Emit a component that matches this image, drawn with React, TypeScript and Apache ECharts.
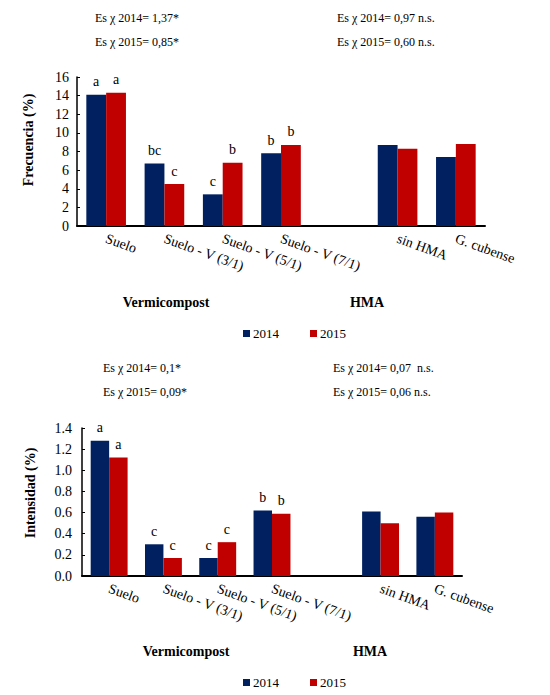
import React, { useEffect, useRef } from "react";
import * as echarts from "echarts";

const categories = ["Suelo", "Suelo - V (3/1)", "Suelo - V (5/1)", "Suelo - V (7/1)", "", "sin HMA", "G. cubense"];
const freq2014 = [14.1, 6.7, 3.4, 7.8, null, 8.7, 7.4];
const freq2015 = [14.3, 4.5, 6.8, 8.7, null, 8.3, 8.8];
const freqLetters2014 = ["a", "bc", "c", "b", "", "", ""];
const freqLetters2015 = ["a", "c", "b", "b", "", "", ""];
const int2014 = [1.28, 0.3, 0.17, 0.62, null, 0.61, 0.56];
const int2015 = [1.12, 0.17, 0.32, 0.59, null, 0.5, 0.6];
const intLetters2014 = ["a", "c", "c", "b", "", "", ""];
const intLetters2015 = ["a", "c", "c", "b", "", "", ""];
const freqTicks = { min: 0, max: 16, interval: 2 };
const intTicks = { min: 0, max: 1.4, interval: 0.2 };
const years = ["2014", "2015"];
const freqNotes = ["Es χ 2014= 1,37*", "Es χ 2015= 0,85*", "Es χ 2014= 0,97 n.s.", "Es χ 2015= 0,60 n.s."];
const intNotes = ["Es χ 2014= 0,1*", "Es χ 2015= 0,09*", "Es χ 2014= 0,07  n.s.", "Es χ 2015= 0,06 n.s."];
const groups = ["Vermicompost", "HMA"];

const NAVY = "#002060";
const RED = "#C00000";
const FONT = "Liberation Serif, Times New Roman, serif";

export default function App() {
  const ref = useRef<HTMLDivElement>(null);
  useEffect(() => {
    document.body.style.margin = "0";
    const chart = echarts.init(ref.current!, null, { renderer: "svg" });
    const xAxisBase = (gridIndex: number) => ({
      type: "category",
      gridIndex,
      data: categories,
      axisLine: { lineStyle: { color: "#000", width: 2 } },
      axisTick: { show: false },
      axisLabel: {
        interval: 0,
        rotate: -20,
        margin: 12,
        color: "#000",
        fontSize: 14,
        fontFamily: FONT,
      },
    });
    const yAxisBase = (gridIndex: number, t: any, dec: boolean, margin: number) => ({
      type: "value",
      gridIndex,
      min: t.min,
      max: t.max,
      interval: t.interval,
      splitLine: { show: false },
      axisLine: { show: true, lineStyle: { color: "#000", width: 1.5 } },
      axisTick: { show: true, inside: true, length: 3, lineStyle: { color: "#000" } },
      axisLabel: {
        color: "#000",
        fontSize: 14,
        fontFamily: FONT,
        margin,
        formatter: (v: number) => (dec ? v.toFixed(1) : String(v)),
      },
    });
    const barSeries = (name: string, data: any[], letters: string[], color: string, idx: number) => ({
      type: "bar",
      name,
      xAxisIndex: idx,
      yAxisIndex: idx,
      data,
      barGap: "0%",
      barCategoryGap: "32%",
      itemStyle: { color },
      label: {
        show: true,
        position: "top",
        distance: 6,
        color: "#000",
        fontSize: 14,
        fontFamily: FONT,
        formatter: (p: any) => letters[p.dataIndex] || "",
      },
    });
    const txt = (text: string, x: number, y: number, opts: any = {}) => ({
      type: "text",
      x,
      y,
      rotation: opts.rotation || 0,
      style: {
        text,
        fill: "#000",
        fontSize: opts.size || 12,
        fontWeight: opts.bold ? "bold" : "normal",
        fontFamily: FONT,
        textAlign: opts.align || "left",
        textVerticalAlign: "middle",
      },
    });
    const legendBase = (top: number) => ({
      data: years,
      left: 243,
      top,
      padding: 0,
      itemWidth: 7,
      itemHeight: 7,
      itemGap: 31,
      icon: "rect",
      textStyle: { color: "#000", fontSize: 13, fontFamily: FONT, padding: [0, 0, 0, -2] },
    });
    chart.setOption({
      animation: false,
      textStyle: { fontFamily: FONT },
      grid: [
        { left: 77, right: 65, top: 77, height: 149 },
        { left: 82, right: 88, top: 428, height: 148 },
      ],
      xAxis: [xAxisBase(0), xAxisBase(1)],
      yAxis: [yAxisBase(0, freqTicks, false, 8), yAxisBase(1, intTicks, true, 10)],
      legend: [legendBase(327), legendBase(676)],
      series: [
        barSeries(years[0], freq2014, freqLetters2014, NAVY, 0),
        barSeries(years[1], freq2015, freqLetters2015, RED, 0),
        barSeries(years[0], int2014, intLetters2014, NAVY, 1),
        barSeries(years[1], int2015, intLetters2015, RED, 1),
      ],
      graphic: [
        txt(freqNotes[0], 95, 18),
        txt(freqNotes[1], 95, 42),
        txt(freqNotes[2], 337, 18),
        txt(freqNotes[3], 337, 42),
        txt(intNotes[0], 103, 368),
        txt(intNotes[1], 103, 392),
        txt(intNotes[2], 333, 368),
        txt(intNotes[3], 333, 392),
        txt("Frecuencia (%)", 28, 140, { bold: true, size: 14, align: "center", rotation: Math.PI / 2 }),
        txt("Intensidad (%)", 30, 493, { bold: true, size: 14, align: "center", rotation: Math.PI / 2 }),
        txt(groups[0], 166, 302, { bold: true, size: 14, align: "center" }),
        txt(groups[1], 367, 302, { bold: true, size: 14, align: "center" }),
        txt(groups[0], 186, 651, { bold: true, size: 14, align: "center" }),
        txt(groups[1], 370, 651, { bold: true, size: 14, align: "center" }),
      ],
    });
    return () => chart.dispose();
  }, []);
  return <div ref={ref} style={{ width: 550, height: 695 }} />;
}
